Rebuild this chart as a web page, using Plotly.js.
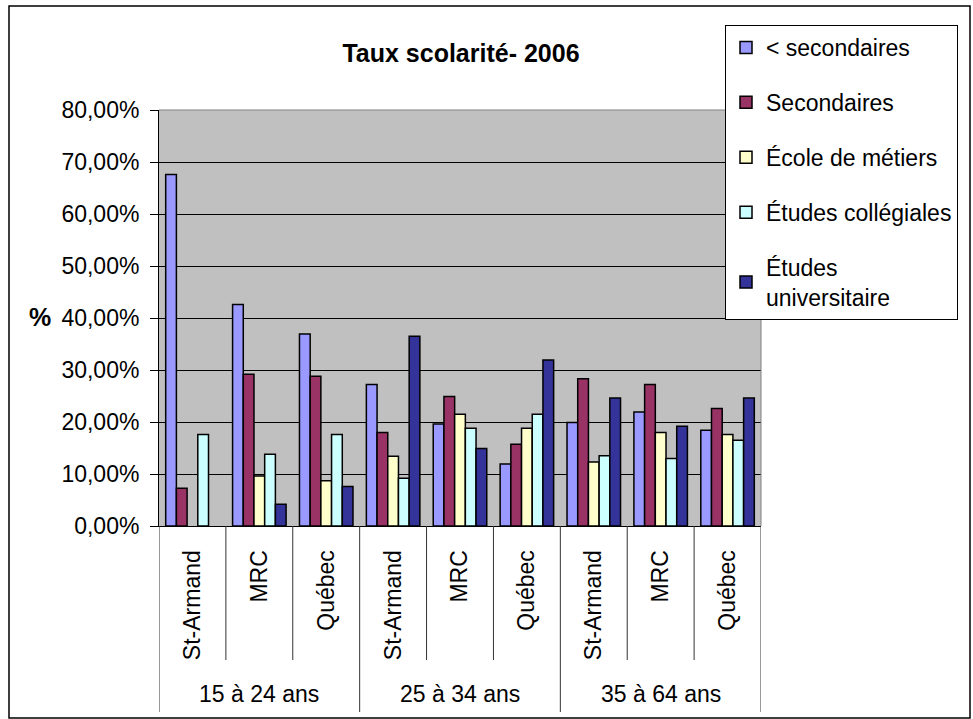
<!DOCTYPE html>
<html>
<head>
<meta charset="utf-8">
<script src="https://cdn.plot.ly/plotly-3.0.1.min.js"></script>
<style>
html,body{margin:0;padding:0;background:#fff;}
#chart{width:973px;height:719px;}
</style>
</head>
<body>
<div id="chart"></div>
<script>
// ---- data ----
const groups = ["15 à 24 ans", "25 à 34 ans", "35 à 64 ans"];
const places = ["St-Armand", "MRC", "Québec"];
const seriesNames = ["< secondaires", "Secondaires", "École de métiers", "Études collégiales", "Études<br>universitaire"];
const lessSecondaire = [67.6, 42.6, 36.9, 27.2, 19.6, 11.9, 19.9, 21.9, 18.4];
const secondaire     = [7.25, 29.2, 28.8, 18.0, 24.9, 15.7, 28.3, 27.2, 22.6];
const metiers        = [null, 9.6, 8.7, 13.4, 21.5, 18.8, 12.3, 18.0, 17.6];
const collegiales    = [17.6, 13.8, 17.6, 9.2, 18.8, 21.5, 13.5, 13.0, 16.5];
const universitaire  = [null, 4.2, 7.6, 36.5, 14.9, 31.9, 24.6, 19.2, 24.6];
const yTicks = [0, 10, 20, 30, 40, 50, 60, 70, 80];
const yTickText = ["0,00%", "10,00%", "20,00%", "30,00%", "40,00%", "50,00%", "60,00%", "70,00%", "80,00%"];

// ---- build ----
const colors = ["#9999FF", "#993366", "#FFFFCC", "#CCFFFF", "#333399"];
const allValues = [lessSecondaire, secondaire, metiers, collegiales, universitaire];
const catLabels = [];
groups.forEach(g => places.forEach(p => catLabels.push(p)));
const xIdx = catLabels.map((_, i) => i);

const FONT = "Liberation Sans, Arial, sans-serif";

const traces = allValues.map((vals, k) => ({
  type: "bar",
  name: seriesNames[k],
  x: xIdx,
  y: vals,
  legendgroup: "g" + k,
  marker: {color: colors[k], line: {color: "#000", width: 1.5}},
  hoverinfo: "y+name"
}));

// plot area in pixels
const W = 973, H = 719;
const L = 159, R = 761, T = 110, B = 526;
const pw = R - L, ph = B - T;
const px = v => (v - L) / pw;
const py = v => (B - v) / ph;

const shapes = [];
// separators under the axis
const n = catLabels.length;
for (let i = 0; i <= n; i++) {
  const isGroup = (i % places.length === 0);
  shapes.push({
    type: "line", xref: "x", yref: "paper",
    x0: i - 0.5, x1: i - 0.5,
    y0: 0, y1: isGroup ? py(712) : py(660),
    line: {color: "#333", width: 1}
  });
}
// grey top/right edges of plot area
shapes.push({type: "line", xref: "paper", yref: "paper", x0: 0, x1: 1, y0: 1, y1: 1, line: {color: "#808080", width: 1}, layer: "above"});
shapes.push({type: "line", xref: "paper", yref: "paper", x0: 1, x1: 1, y0: 0, y1: 1, line: {color: "#808080", width: 1}, layer: "above"});
// outer chart border
shapes.push({type: "rect", xref: "paper", yref: "paper",
  x0: px(9), x1: px(970), y0: py(718), y1: py(6),
  line: {color: "#000", width: 1.5}, fillcolor: "rgba(0,0,0,0)"});

const annotations = groups.map((g, gi) => ({
  text: g, xref: "x", yref: "paper",
  x: gi * places.length + (places.length - 1) / 2,
  y: py(694), xanchor: "center", yanchor: "middle",
  showarrow: false, font: {family: FONT, size: 23, color: "#000"}
}));
annotations.push({
  text: "<b>%</b>", xref: "paper", yref: "paper",
  x: px(40), y: py(317), xanchor: "center", yanchor: "middle",
  showarrow: false, font: {family: FONT, size: 25, color: "#000"}
});

const layout = {
  width: W, height: H,
  margin: {l: L, r: W - R, t: T, b: H - B, pad: 0},
  paper_bgcolor: "#fff",
  plot_bgcolor: "#C0C0C0",
  font: {family: FONT, size: 22, color: "#000"},
  title: {
    text: "<b>Taux scolarité- 2006</b>",
    font: {family: FONT, size: 25, color: "#000"},
    xref: "paper", x: px(461), xanchor: "center",
    yref: "container", y: 1 - 53 / H, yanchor: "middle"
  },
  barmode: "group",
  bargap: 0.2,
  bargroupgap: 0,
  xaxis: {
    range: [-0.5, n - 0.5],
    tickmode: "array", tickvals: xIdx, ticktext: catLabels,
    tickangle: -90, ticks: "", showgrid: false, zeroline: false,
    showline: true, linecolor: "#000", linewidth: 1,
    tickfont: {family: FONT, size: 23, color: "#000"},
    ticklabelstandoff: 14,
    fixedrange: true
  },
  yaxis: {
    range: [0, 80],
    tickmode: "array", tickvals: yTicks, ticktext: yTickText,
    ticks: "outside", ticklen: 8, tickcolor: "#000", tickwidth: 1,
    showgrid: true, gridcolor: "#000", gridwidth: 1,
    zeroline: false, showline: true, linecolor: "#000", linewidth: 1,
    tickfont: {family: FONT, size: 23, color: "#000"},
    ticklabelstandoff: 6,
    fixedrange: true
  },
  legend: {
    x: px(725), xanchor: "left", y: py(25), yanchor: "top",
    xref: "paper", yref: "paper",
    bgcolor: "#fff", bordercolor: "#000", borderwidth: 1,
    font: {family: FONT, size: 23, color: "#000"},
    tracegroupgap: 22,
    traceorder: "grouped"
  },
  shapes: shapes,
  annotations: annotations,
  showlegend: true
};

Plotly.newPlot("chart", traces, layout, {displayModeBar: false, staticPlot: true});
</script>
</body>
</html>
